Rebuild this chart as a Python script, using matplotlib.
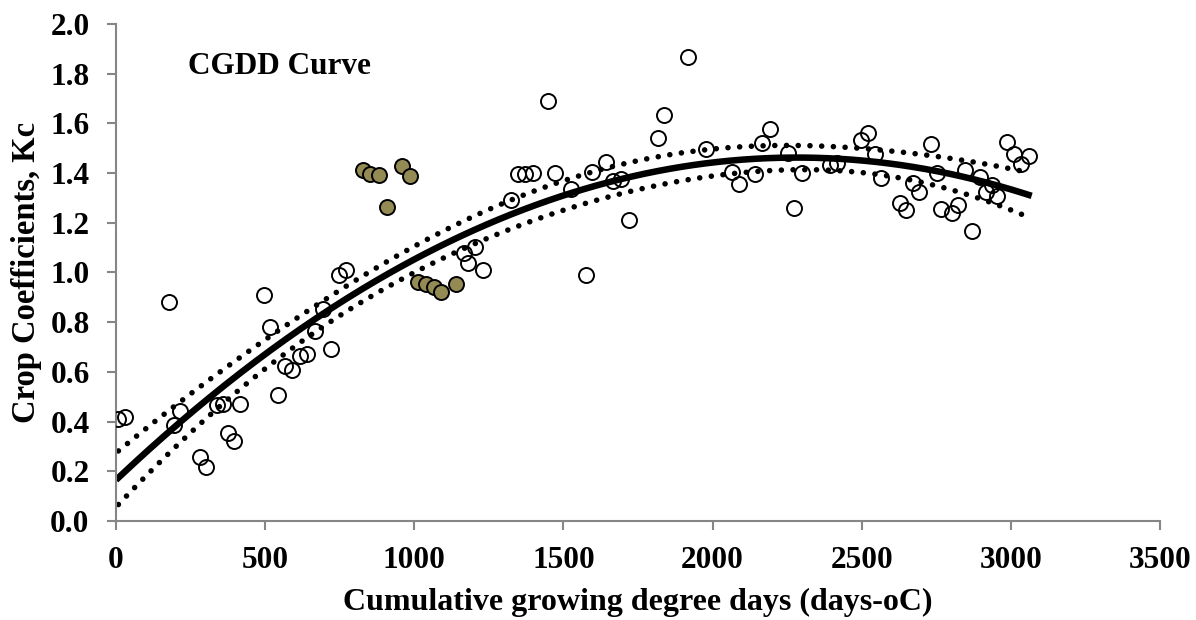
import numpy as np
import matplotlib
matplotlib.use('Agg')
import matplotlib.pyplot as plt

# Datos: puntos abiertos (usados en el ajuste)
cgdd_open = [8, 30, 176, 195, 215, 280, 300, 340, 360, 374, 394, 417, 497, 517, 542,
             565, 590, 616, 640, 668, 693, 719, 746, 771, 1167, 1180, 1203, 1229,
             1323, 1346, 1372, 1397, 1447, 1472, 1525, 1575, 1597, 1644, 1667, 1693,
             1720, 1816, 1837, 1917, 1978, 2066, 2087, 2141, 2167, 2193, 2251, 2272,
             2298, 2393, 2418, 2496, 2520, 2544, 2564, 2628, 2648, 2673, 2692, 2733,
             2752, 2765, 2801, 2824, 2846, 2870, 2896, 2917, 2938, 2953, 2987, 3011,
             3034, 3059]
kc_open = [0.41, 0.418, 0.88, 0.388, 0.443, 0.259, 0.219, 0.466, 0.472, 0.354, 0.320,
           0.469, 0.91, 0.78, 0.508, 0.625, 0.609, 0.665, 0.671, 0.766, 0.855, 0.692,
           0.991, 1.012, 1.077, 1.039, 1.104, 1.009, 1.292, 1.398, 1.398, 1.402, 1.692,
           1.402, 1.335, 0.991, 1.404, 1.446, 1.368, 1.378, 1.211, 1.542, 1.632, 1.868,
           1.496, 1.404, 1.356, 1.398, 1.523, 1.577, 1.479, 1.259, 1.402, 1.431, 1.44,
           1.532, 1.56, 1.478, 1.379, 1.281, 1.25, 1.362, 1.324, 1.517, 1.399, 1.254,
           1.241, 1.272, 1.413, 1.165, 1.386, 1.325, 1.352, 1.306, 1.527, 1.476, 1.438,
           1.469]

# Puntos rellenos (excluidos del ajuste)
cgdd_fill = [828, 853, 881, 907, 960, 985, 1012, 1040, 1066, 1091, 1141]
kc_fill = [1.413, 1.395, 1.391, 1.265, 1.429, 1.388, 0.961, 0.952, 0.941, 0.922, 0.954]

x = np.array(cgdd_open, dtype=float)
y = np.array(kc_open)

# Ajuste cuadratico y banda de confianza 95%
X = np.column_stack([np.ones_like(x), x, x**2])
beta, res, rank, sv = np.linalg.lstsq(X, y, rcond=None)
resid = y - X @ beta
n, p = X.shape
s2 = resid @ resid / (n - p)
cov = s2 * np.linalg.inv(X.T @ X)
xf = np.linspace(x.min(), x.max(), 300)
Xf = np.column_stack([np.ones_like(xf), xf, xf**2])
yf = Xf @ beta
se = np.sqrt(np.einsum('ij,jk,ik->i', Xf, cov, Xf))
t = 1.99
upper = yf + t * se
lower = yf - t * se

plt.rcParams['font.family'] = ['Liberation Serif', 'DejaVu Serif']
plt.rcParams['font.weight'] = 'bold'

fig = plt.figure(figsize=(11.96, 6.2), dpi=100)
ax = fig.add_axes([0.097, 0.1597, 0.873, 0.8016])

ax.plot(xf, yf, color='black', lw=4.7, zorder=2)
dots = (0, (0.01, 2.1))
ax.plot(xf, upper, color='black', lw=4.0, linestyle=dots, dash_capstyle='round', zorder=2)
ax.plot(xf, lower, color='black', lw=4.0, linestyle=dots, dash_capstyle='round', zorder=2)

ax.plot(cgdd_open, kc_open, 'o', ms=10.8, mfc='none', mec='black', mew=1.4, zorder=3)
ax.plot(cgdd_fill, kc_fill, 'o', ms=10.8, mfc='#948a54', mec='black', mew=1.4, zorder=3)

ax.set_xlim(0, 3500)
ax.set_ylim(0, 2.0)
ax.set_xticks(np.arange(0, 3501, 500))
ax.set_yticks(np.arange(0, 2.01, 0.2))
ax.set_yticklabels(['%.1f' % v for v in np.arange(0, 2.01, 0.2)])

for s in ['top', 'right']:
    ax.spines[s].set_visible(False)
for s in ['left', 'bottom']:
    ax.spines[s].set_color('#868686')
    ax.spines[s].set_linewidth(1.5)
ax.tick_params(direction='out', length=6.5, width=1.5, color='#868686', labelsize=22.5)
ax.tick_params(axis='x', pad=11.5)
ax.tick_params(axis='y', pad=12.5)
for lab in ax.get_xticklabels() + ax.get_yticklabels():
    lab.set_fontweight('bold')

ax.set_xlabel('Cumulative growing degree days (days-oC)', fontsize=23, fontweight='bold', labelpad=9)
ax.set_ylabel('Crop Coefficients, Kc', fontsize=23.5, fontweight='bold', labelpad=6)
ax.text(242, 1.80, 'CGDD Curve', fontsize=22.5, fontweight='bold', va='baseline')

fig.savefig('out.png', dpi=100)
